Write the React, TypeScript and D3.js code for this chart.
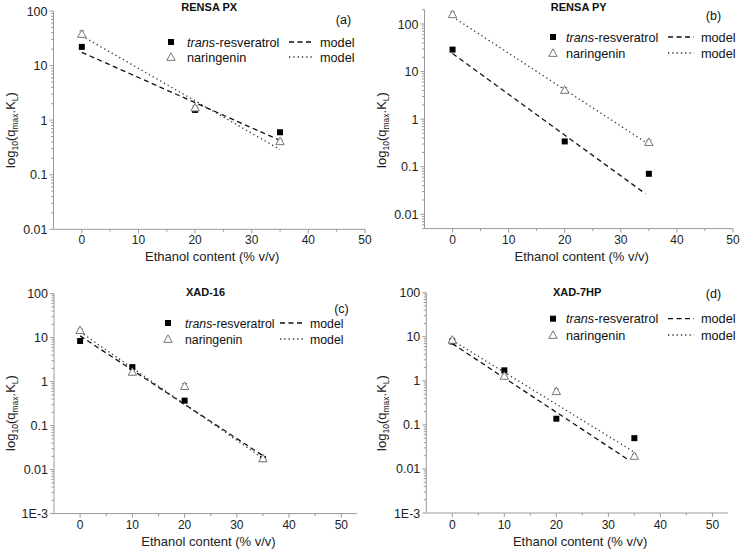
import React from "react";
import * as d3 from "d3";

// ---------- data ----------
const ethanolAB = [0, 20, 35];
const ethanolCD = [0, 10, 20, 35];

const transA = [22, 1.54, 0.6];
const narA = [38, 1.7, 0.41];
const narErrA = [5, 0.15, 0.03];
const modelXA = [0, 34.9];
const modelTransA = [17.5, 0.43];
const modelNarXA = [0, 35];
const modelNarA = [35, 0.29];

const transB = [29, 0.34, 0.071];
const narB = [160, 4.1, 0.33];
const narErrB = [20, 0.5, 0.03];
const modelXB = [0, 34.4];
const modelTransB = [24, 0.027];
const modelNarXB = [0, 35.3];
const modelNarB = [142, 0.28];

const transC = [8.4, 2.14, 0.37, 0.0174];
const narC = [14.8, 1.67, 0.79, 0.018];
const narErrC = [1.5, 0.25, 0.12, 0.002];
const modelXC = [0, 35];
const modelTransC = [11, 0.0207];
const modelNarXC = [0, 35];
const modelNarC = [13.5, 0.018];

const transD = [7.8, 1.73, 0.138, 0.05];
const narD = [8.5, 1.29, 0.58, 0.0197];
const narErrD = [0.8, 0.15, 0.08, 0.002];
const modelXD = [0, 34];
const modelTransD = [7, 0.0157];
const modelNarXD = [0, 35];
const modelNarD = [8.3, 0.024];

const xTicks = [0, 10, 20, 30, 40, 50];
const xMinorTicks = [5, 15, 25, 35, 45];
const yTicksTop = [0.01, 0.1, 1, 10, 100];
const yTicksBottom = [0.001, 0.01, 0.1, 1, 10, 100];

const titles = ["RENSA PX", "RENSA PY", "XAD-16", "XAD-7HP"];
const tags = ["(a)", "(b)", "(c)", "(d)"];
const legendTrans = "-resveratrol";
const legendTransItalic = "trans";
const legendNar = "naringenin";
const legendModel = "model";
const xTitle = "Ethanol content (% v/v)";

// ---------- layout ----------
const FONT = "'Liberation Sans', Arial, Helvetica, sans-serif";
const AXIS = "#9a9a9a";

const panels = [
  {
    x: ethanolAB, trans: transA, nar: narA, err: narErrA,
    mtX: modelXA, mt: modelTransA, mnX: modelNarXA, mn: modelNarA,
    xDomain: [-5, 50], xRange: [53.5, 365],
    yDomain: [0.01, 100], yRange: [229.3, 11], yTicks: yTicksTop,
    titleY: 11, tagX: 343.5, tagY: 24,
    leg: { mx: 171, r1: 42, r2: 57, tx: 187, l0: 289, l1: 314, mdx: 320, fs: 12.7 },
    xLabY: 244, xTitleY: 261, yTitleX: 15, yTitleY: 130,
  },
  {
    x: ethanolAB, trans: transB, nar: narB, err: narErrB,
    mtX: modelXB, mt: modelTransB, mnX: modelNarXB, mn: modelNarB,
    xDomain: [-5, 50], xRange: [424.5, 733],
    yDomain: [0.005, 200], yRange: [228.6, 9.7], yTicks: yTicksTop,
    titleY: 11, tagX: 713.5, tagY: 20,
    leg: { mx: 553, r1: 37, r2: 53, tx: 566, l0: 668, l1: 694, mdx: 701, fs: 12.7 },
    xLabY: 244, xTitleY: 261, yTitleX: 386, yTitleY: 130,
  },
  {
    x: ethanolCD, trans: transC, nar: narC, err: narErrC,
    mtX: modelXC, mt: modelTransC, mnX: modelNarXC, mn: modelNarC,
    xDomain: [-5, 53], xRange: [54, 357],
    yDomain: [0.001, 100], yRange: [513.6, 293.7], yTicks: yTicksBottom,
    titleY: 296, tagX: 341.5, tagY: 313,
    leg: { mx: 168, r1: 323, r2: 339, tx: 185, l0: 280, l1: 304, mdx: 310, fs: 12.3 },
    xLabY: 529, xTitleY: 546, yTitleX: 15, yTitleY: 413,
  },
  {
    x: ethanolCD, trans: transD, nar: narD, err: narErrD,
    mtX: modelXD, mt: modelTransD, mnX: modelNarXD, mn: modelNarD,
    xDomain: [-5, 53], xRange: [426.3, 728],
    yDomain: [0.001, 100], yRange: [513, 292.7], yTicks: yTicksBottom,
    titleY: 296, tagX: 713.5, tagY: 298,
    leg: { mx: 553, r1: 318.7, r2: 335, tx: 566, l0: 668, l1: 694, mdx: 701, fs: 12.7 },
    xLabY: 529, xTitleY: 546, yTitleX: 386, yTitleY: 413,
  },
];

const fmtY = (v: number) => (v === 0.001 ? "1E-3" : String(v));

function Triangle({ cx, cy }: { cx: number; cy: number }) {
  const s = 4.2;
  return (
    <path
      d={`M${cx},${cy - s} L${cx + s},${cy + s * 0.8} L${cx - s},${cy + s * 0.8} Z`}
      fill="#fff"
      stroke="#777"
      strokeWidth={1}
    />
  );
}

function Panel({ p, i }: { p: any; i: number }) {
  const xs = d3.scaleLinear().domain(p.xDomain).range(p.xRange);
  const ys = d3.scaleLog().domain(p.yDomain).range(p.yRange);
  const [yb, yt] = p.yRange;
  const [xl, xr] = p.xRange;
  const cx = (xl + xr) / 2;

  const minor: number[] = [];
  const lo = Math.floor(Math.log10(p.yDomain[0]));
  const hi = Math.ceil(Math.log10(p.yDomain[1]));
  for (let e = lo; e <= hi; e++) {
    for (let m = 2; m <= 9; m++) {
      const v = m * Math.pow(10, e);
      if (v >= p.yDomain[0] * 0.999 && v <= p.yDomain[1] * 1.001) minor.push(v);
    }
  }
  const seg = (xv: number[], yv: number[]) =>
    d3
      .line<[number, number]>()
      .x((d) => xs(d[0]))
      .y((d) => ys(d[1]))(xv.map((x, k) => [x, yv[k]] as [number, number])) || "";

  const fs = p.leg.fs;

  return (
    <g>
      <line x1={xl} x2={xl} y1={yb} y2={yt} stroke={AXIS} strokeWidth={1} />
      <line x1={xl} x2={xr} y1={yb} y2={yb} stroke={AXIS} strokeWidth={1} />
      {p.yTicks.map((t: number) => (
        <g key={"yt" + t}>
          <line x1={xl - 4} x2={xl} y1={ys(t)} y2={ys(t)} stroke={AXIS} />
          <text x={xl - 6} y={ys(t)} dy="0.36em" textAnchor="end" fontSize={12.5} fill="#222">
            {fmtY(t)}
          </text>
        </g>
      ))}
      {minor.map((t) => (
        <line key={"ym" + t} x1={xl - 2.5} x2={xl} y1={ys(t)} y2={ys(t)} stroke={AXIS} />
      ))}
      {xTicks.map((t) => (
        <g key={"xt" + t}>
          <line x1={xs(t)} x2={xs(t)} y1={yb} y2={yb + 4} stroke={AXIS} />
          <text x={xs(t)} y={p.xLabY} textAnchor="middle" fontSize={12} fill="#222">
            {t}
          </text>
        </g>
      ))}
      {xMinorTicks.map((t) => (
        <line key={"xm" + t} x1={xs(t)} x2={xs(t)} y1={yb} y2={yb + 2.5} stroke={AXIS} />
      ))}
      <text x={cx + 3} y={p.xTitleY} textAnchor="middle" fontSize={13} fill="#222">
        {xTitle}
      </text>
      <text
        transform={`translate(${p.yTitleX},${p.yTitleY}) rotate(-90)`}
        textAnchor="middle"
        fontSize={13}
        fill="#222"
      >
        log
        <tspan fontSize={8.5} dy={3}>10</tspan>
        <tspan dy={-3}>(q</tspan>
        <tspan fontSize={8.5} dy={3}>max</tspan>
        <tspan dy={-3}>.K</tspan>
        <tspan fontSize={8.5} dy={3}>L</tspan>
        <tspan dy={-3}>)</tspan>
      </text>

      <text x={cx} y={p.titleY} textAnchor="middle" fontSize={11} fontWeight="bold" fill="#111">
        {titles[i]}
      </text>
      <text x={p.tagX} y={p.tagY} textAnchor="middle" fontSize={12.5} fill="#111">
        {tags[i]}
      </text>

      <path d={seg(p.mtX, p.mt)} fill="none" stroke="#111" strokeWidth={1.3} strokeDasharray="5,3.5" />
      <path d={seg(p.mnX, p.mn)} fill="none" stroke="#333" strokeWidth={1.3} strokeDasharray="1.3,3" />

      {p.nar.map((v: number, k: number) =>
        p.err[k] > 0 ? (
          <g key={"e" + k} stroke="#777" strokeWidth={1}>
            <line x1={xs(p.x[k])} x2={xs(p.x[k])} y1={ys(v + p.err[k])} y2={ys(v - p.err[k])} />
            <line x1={xs(p.x[k]) - 2.5} x2={xs(p.x[k]) + 2.5} y1={ys(v + p.err[k])} y2={ys(v + p.err[k])} />
            <line x1={xs(p.x[k]) - 2.5} x2={xs(p.x[k]) + 2.5} y1={ys(v - p.err[k])} y2={ys(v - p.err[k])} />
          </g>
        ) : null
      )}

      {p.trans.map((v: number, k: number) => (
        <rect key={"s" + k} x={xs(p.x[k]) - 3} y={ys(v) - 3} width={6} height={6} fill="#000" />
      ))}
      {p.nar.map((v: number, k: number) => (
        <Triangle key={"t" + k} cx={xs(p.x[k])} cy={ys(v)} />
      ))}

      <rect x={p.leg.mx - 3} y={p.leg.r1 - 3} width={6} height={6} fill="#000" />
      <text x={p.leg.tx} y={p.leg.r1 + 4.5} fontSize={fs} fill="#111">
        <tspan fontStyle="italic">{legendTransItalic}</tspan>
        {legendTrans}
      </text>
      <line x1={p.leg.l0} x2={p.leg.l1} y1={p.leg.r1} y2={p.leg.r1} stroke="#111" strokeWidth={1.3} strokeDasharray="5,3.5" />
      <text x={p.leg.mdx} y={p.leg.r1 + 4.5} fontSize={fs} fill="#111">
        {legendModel}
      </text>
      <Triangle cx={p.leg.mx} cy={p.leg.r2} />
      <text x={p.leg.tx} y={p.leg.r2 + 4.5} fontSize={fs} fill="#111">
        {legendNar}
      </text>
      <line x1={p.leg.l0} x2={p.leg.l1} y1={p.leg.r2} y2={p.leg.r2} stroke="#333" strokeWidth={1.3} strokeDasharray="1.3,3" />
      <text x={p.leg.mdx} y={p.leg.r2 + 4.5} fontSize={fs} fill="#111">
        {legendModel}
      </text>
    </g>
  );
}

export default function App() {
  return (
    <svg
      width={742}
      height={555}
      viewBox="0 0 742 555"
      style={{ position: "absolute", left: 0, top: 0, background: "#fff", fontFamily: FONT }}
    >
      <rect width={742} height={555} fill="#fff" />
      {panels.map((p, i) => (
        <Panel key={i} p={p} i={i} />
      ))}
    </svg>
  );
}
